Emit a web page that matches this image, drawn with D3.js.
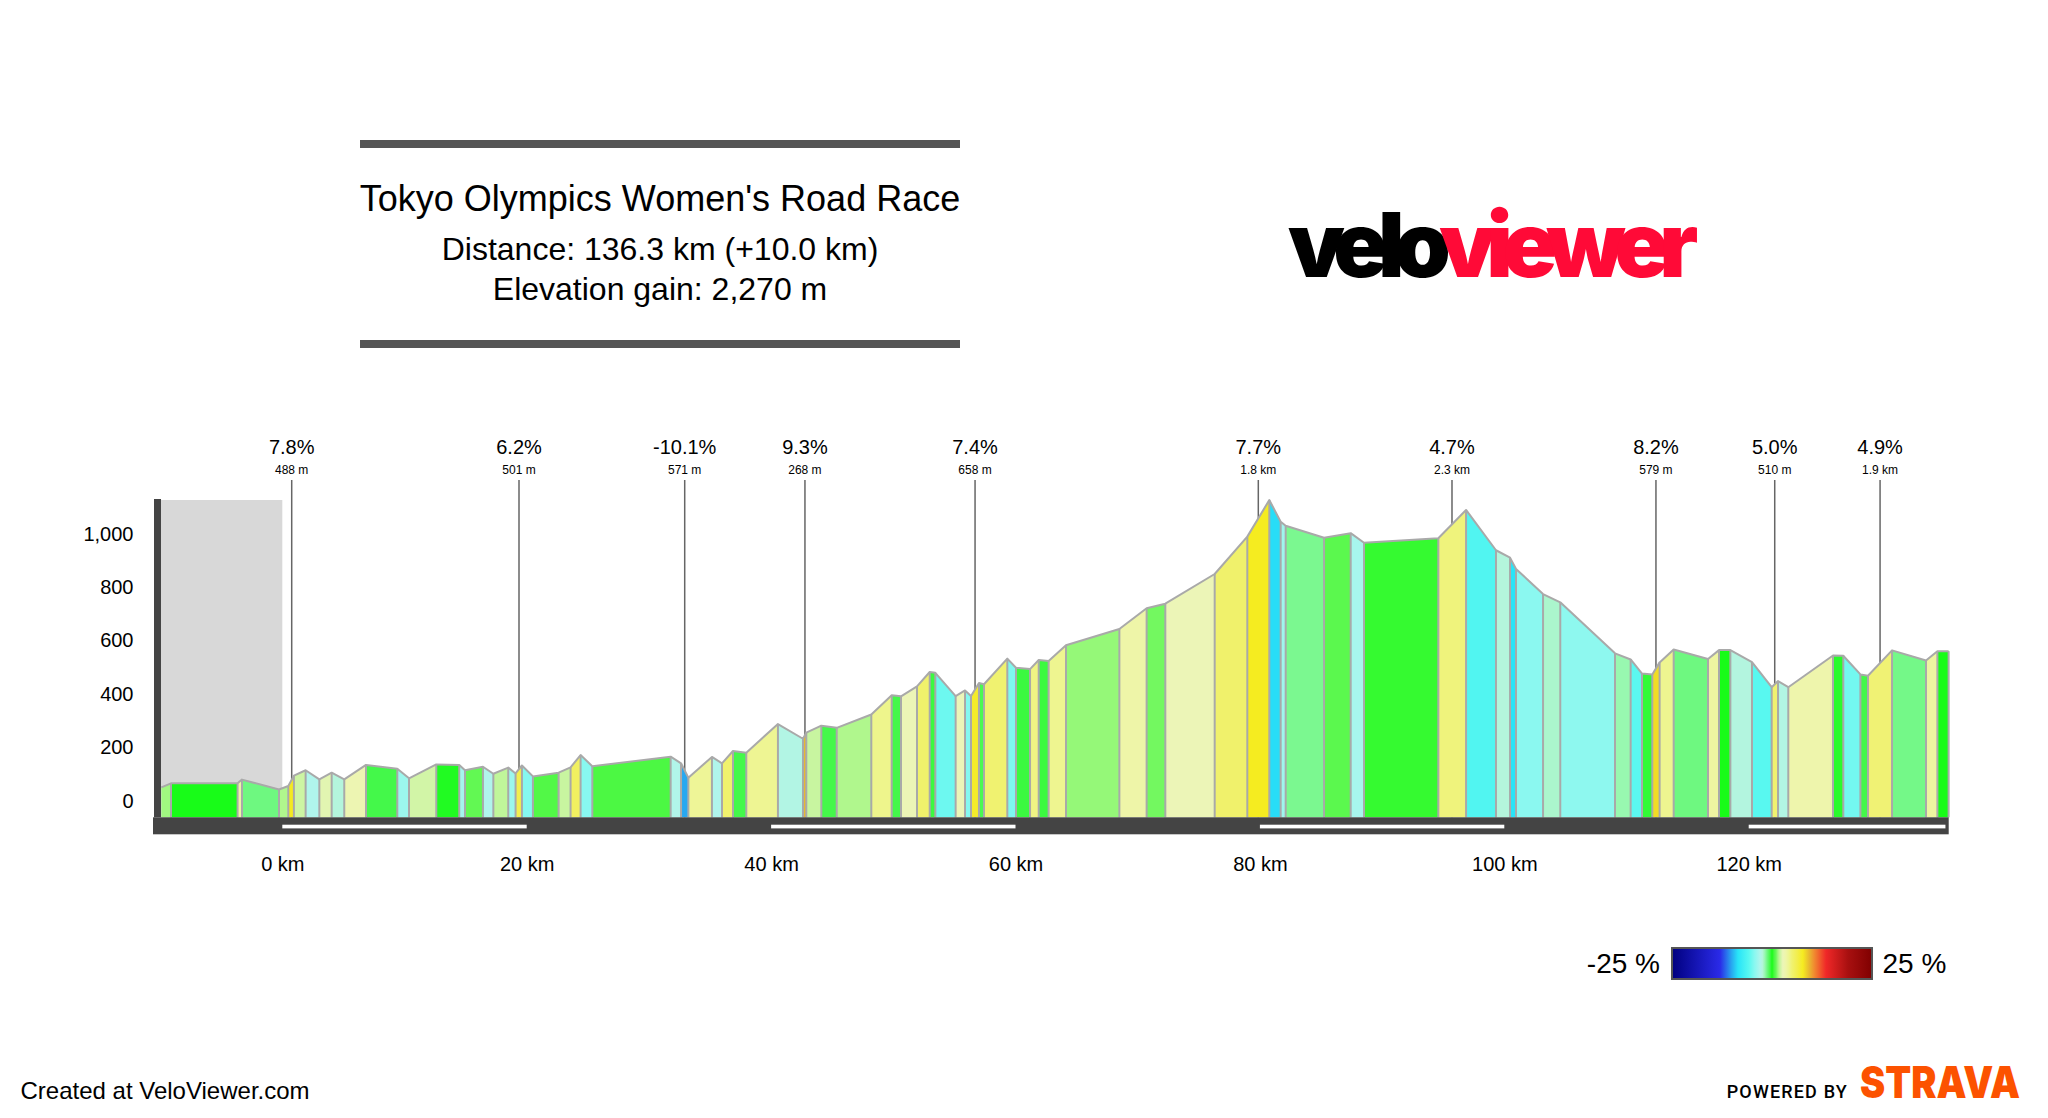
<!DOCTYPE html>
<html>
<head>
<meta charset="utf-8">
<title>Tokyo Olympics Women's Road Race</title>
<script src="https://cdn.jsdelivr.net/npm/d3@7"></script>
<style>
  body { margin: 0; background: #fff; }
  text { font-family: "Liberation Sans", Arial, sans-serif; fill: #000; }
</style>
</head>
<body>
<svg id="chart" width="2048" height="1118"></svg>
<script>
// profile vertices
const kms = [-9.9, -9.11, -3.66, -3.3, -0.27, 0.49, 0.95, 1.91, 3.03, 4.04, 5.07, 6.85, 9.41, 10.37, 12.6, 14.48, 14.95, 16.42, 17.27, 18.49, 19.09, 19.61, 20.51, 22.61, 23.59, 24.41, 25.37, 31.78, 32.63, 33.23, 35.16, 35.98, 36.88, 37.97, 40.56, 42.61, 42.88, 44.11, 45.37, 48.2, 49.87, 50.63, 51.94, 52.98, 53.44, 55.1, 55.87, 56.36, 57.01, 57.42, 59.33, 60.04, 61.19, 61.9, 62.71, 64.13, 68.5, 70.73, 72.26, 76.3, 78.97, 80.77, 81.7, 82.11, 85.25, 87.43, 88.52, 94.6, 96.87, 99.32, 100.47, 100.96, 103.17, 104.58, 109.06, 110.34, 111.27, 112.11, 112.71, 113.86, 116.67, 117.57, 118.5, 120.27, 121.88, 122.4, 123.24, 126.9, 127.74, 129.14, 129.76, 131.73, 134.51, 135.44, 136.36];
const elevations = [50, 65, 65, 79, 42, 55, 94, 114, 80, 105, 80, 134, 120, 84, 136, 134, 114, 127, 101, 124, 102, 132, 91, 105, 125, 171, 129, 165, 140, 86, 164, 140, 186, 180, 287, 232, 255, 281, 273, 323, 395, 391, 428, 482, 479, 392, 413, 392, 441, 436, 532, 498, 493, 527, 523, 582, 643, 721, 738, 849, 989, 1126, 1045, 1030, 985, 1002, 966, 983, 1089, 938, 910, 868, 774, 743, 552, 529, 476, 473, 518, 566, 531, 564, 564, 519, 425, 448, 425, 544, 543, 473, 468, 563, 525, 560, 560];
// gradient of each stretch between two vertices, estimated from its colour
const gradients = [1.5, 0, 3.5, -1.2, 1.7, 7.8, 2.1, -3, 2.5, -2.4, 3, -0.5, -3.7, 2.2, -0.1, -3.4, 0.9, -3, 1.9, -3.7, 6.2, -4.5, 0.65, 2, 5.6, -4.4, 0.56, -2.9, -10.1, 4, -3, 5.1, -0.5, 4.1, -2.7, 9.3, 2, -0.5, 1.7, 4.3, -0.5, 2.8, 5.2, -0.4, -5.2, 2.7, -4.5, 7.4, -0.6, 5, -4.7, -0.4, 4.5, -0.4, 4.2, 1.4, 3.5, 1.1, 2.75, 5.2, 7.7, -8.7, -3.6, -1.4, 0.8, -3.3, 0.3, 4.7, -6.2, -2.4, -8.5, -4.3, -2.2, -4.2, -1.8, -5.7, -0.3, 8.2, 4.2, -1.2, 3.7, 0, -2.5, -5.8, 5, -2.7, 3.3, -0.2, -5, -0.5, 4.9, -1.3, 3.7, 0];

const gradeStops = [-25, -13, -10.1, -8.5, -5.8, -4.4, -3, -2.4, -1.8, -1.3, -0.5, 0, 0.5, 1, 1.5, 2, 2.7, 3.5, 4.2, 5, 6.2, 7.7, 9.3, 10.5, 13.5, 19, 25];
const gradeColours = ['#00007f', '#2a2ae8', '#28a8f0', '#28e4f8', '#58f8f0', '#88f8f0', '#b0f5ec', '#b4f5dc', '#98f8b0', '#74f888', '#44f84a', '#18fc18', '#48f840', '#68f858', '#a0f880', '#c8f5a0', '#ecf5b8', '#eef5a8', '#eef590', '#f0f270', '#f2ee50', '#f5ec20', '#e8b830', '#f08c30', '#f02828', '#a81010', '#7f0000'];

// climbs and descents called out above the profile
const calloutKm = [0.77, 19.37, 32.93, 42.77, 56.69, 79.87, 95.72, 112.41, 122.13, 130.75];
const calloutGrade = ['7.8%', '6.2%', '-10.1%', '9.3%', '7.4%', '7.7%', '4.7%', '8.2%', '5.0%', '4.9%'];
const calloutLength = ['488 m', '501 m', '571 m', '268 m', '658 m', '1.8 km', '2.3 km', '579 m', '510 m', '1.9 km'];

const kmTicks = [0, 20, 40, 60, 80, 100, 120];
const elevationTicks = [0, 200, 400, 600, 800, 1000];
const legendTicks = [-25, 25];

const svg = d3.select('#chart');
const x = d3.scaleLinear().domain([0, 120]).range([282.3, 1748.7]);
const y = d3.scaleLinear().domain([0, 1000]).range([800.7, 533.7]);
const colour = d3.scaleLinear().domain(gradeStops).range(gradeColours);

const base = 817.3;
const barColour = '#444';
const strokeColour = '#a9a9a9';

// neutral-zone block before km 0
svg.append('rect')
  .attr('x', x(-10)).attr('y', 500)
  .attr('width', x(0) - x(-10)).attr('height', base - 500)
  .attr('fill', '#d8d8d8');

// callouts go first, the profile covers the lower end of the lines
const callouts = svg.append('g');
calloutKm.forEach((km, i) => {
  callouts.append('line')
    .attr('x1', x(km)).attr('x2', x(km))
    .attr('y1', 480).attr('y2', base)
    .attr('stroke', '#666').attr('stroke-width', 1.5);
  callouts.append('text')
    .attr('x', x(km)).attr('y', 454.3)
    .attr('text-anchor', 'middle')
    .style('font-size', '20px')
    .text(calloutGrade[i]);
  callouts.append('text')
    .attr('x', x(km)).attr('y', 474)
    .attr('text-anchor', 'middle')
    .style('font-size', '12px')
    .text(calloutLength[i]);
});

const points = kms.map((km, i) => ({ km: km, ele: elevations[i] }));
const area = d3.area().x(d => x(d.km)).y0(base).y1(d => y(d.ele));
const line = d3.line().x(d => x(d.km)).y(d => y(d.ele));

const profile = svg.append('g');
for (let i = 0; i < gradients.length; i++) {
  profile.append('path')
    .attr('d', area([points[i], points[i + 1]]))
    .attr('fill', colour(gradients[i]));
}
for (let i = 1; i < points.length; i++) {
  profile.append('line')
    .attr('x1', x(points[i].km)).attr('x2', x(points[i].km))
    .attr('y1', y(points[i].ele)).attr('y2', base)
    .attr('stroke', strokeColour).attr('stroke-width', 2);
}
profile.append('path')
  .attr('d', line(points))
  .attr('fill', 'none')
  .attr('stroke', strokeColour)
  .attr('stroke-width', 2)
  .attr('stroke-linejoin', 'round');

// frame
svg.append('rect').attr('x', 154).attr('y', 499).attr('width', 7).attr('height', base - 499).attr('fill', barColour);
svg.append('rect').attr('x', 153).attr('y', base).attr('width', 1795.7).attr('height', 17).attr('fill', barColour);

// white bands on every other 20 km
kmTicks.forEach((km, i) => {
  if (i % 2) return;
  const end = Math.min(km + 20, 136.1);
  svg.append('rect')
    .attr('x', x(km)).attr('y', 824.7)
    .attr('width', x(end) - x(km)).attr('height', 3.7)
    .attr('fill', '#fff');
});

const xAxis = svg.append('g')
  .attr('transform', 'translate(0,856.5)')
  .call(d3.axisBottom(x).tickValues(kmTicks).tickSize(0).tickPadding(0).tickFormat(d => d + ' km'));
xAxis.select('.domain').remove();
xAxis.selectAll('text').style('font-size', '20px').attr('font-family', null);

const yAxis = svg.append('g')
  .attr('transform', 'translate(133.5,0)')
  .call(d3.axisLeft(y).tickValues(elevationTicks).tickSize(0).tickPadding(0).tickFormat(d3.format(',')));
yAxis.select('.domain').remove();
yAxis.selectAll('text').style('font-size', '20px').attr('font-family', null);

// title block
svg.append('rect').attr('x', 360).attr('y', 140).attr('width', 600).attr('height', 8).attr('fill', '#555');
svg.append('rect').attr('x', 360).attr('y', 340).attr('width', 600).attr('height', 8).attr('fill', '#555');
const titleLines = [
  { text: "Tokyo Olympics Women's Road Race", y: 211, size: 36 },
  { text: 'Distance: 136.3 km (+10.0 km)', y: 260, size: 32 },
  { text: 'Elevation gain: 2,270 m', y: 300, size: 32 }
];
titleLines.forEach(d => {
  svg.append('text')
    .attr('x', 660).attr('y', d.y)
    .attr('text-anchor', 'middle')
    .style('font-size', d.size + 'px')
    .text(d.text);
});

// veloviewer wordmark
const logo = svg.append('text')
  .attr('x', 1288).attr('y', 277)
  .style('font-family', 'Inter').style('font-size', '90px').style('font-weight', 900)
  .style('letter-spacing', '-10px');
logo.append('tspan').style('fill', '#000').text('velo');
logo.append('tspan').style('fill', '#ff0a37').text('viewer');

// gradient legend
const grad = svg.append('defs').append('linearGradient').attr('id', 'legend-grad');
gradeStops.forEach((g, i) => {
  grad.append('stop')
    .attr('offset', (g + 25) / 50)
    .attr('stop-color', gradeColours[i]);
});
svg.append('rect')
  .attr('x', 1672).attr('y', 948)
  .attr('width', 200).attr('height', 31)
  .attr('fill', 'url(#legend-grad)')
  .attr('stroke', '#555').attr('stroke-width', 2);
svg.append('text').attr('x', 1660).attr('y', 973).attr('text-anchor', 'end')
  .style('font-size', '28px').text(legendTicks[0] + ' %');
svg.append('text').attr('x', 1882.5).attr('y', 973)
  .style('font-size', '28px').text(legendTicks[1] + ' %');

// footer
svg.append('text').attr('x', 20.5).attr('y', 1099.3)
  .style('font-size', '24px').text('Created at VeloViewer.com');
svg.append('text').attr('x', 1726.7).attr('y', 1098.3)
  .attr('textLength', 120)
  .style('font-family', 'Roboto').style('font-weight', 500).style('font-size', '18px')
  .text('POWERED BY');
svg.append('text').attr('x', 1860).attr('y', 1098.3)
  .attr('textLength', 160).attr('lengthAdjust', 'spacingAndGlyphs')
  .style('font-family', 'Inter').style('font-size', '43.5px').style('font-weight', 900)
  .style('fill', '#fc5200')
  .text('STRAVA');
</script>
</body>
</html>
